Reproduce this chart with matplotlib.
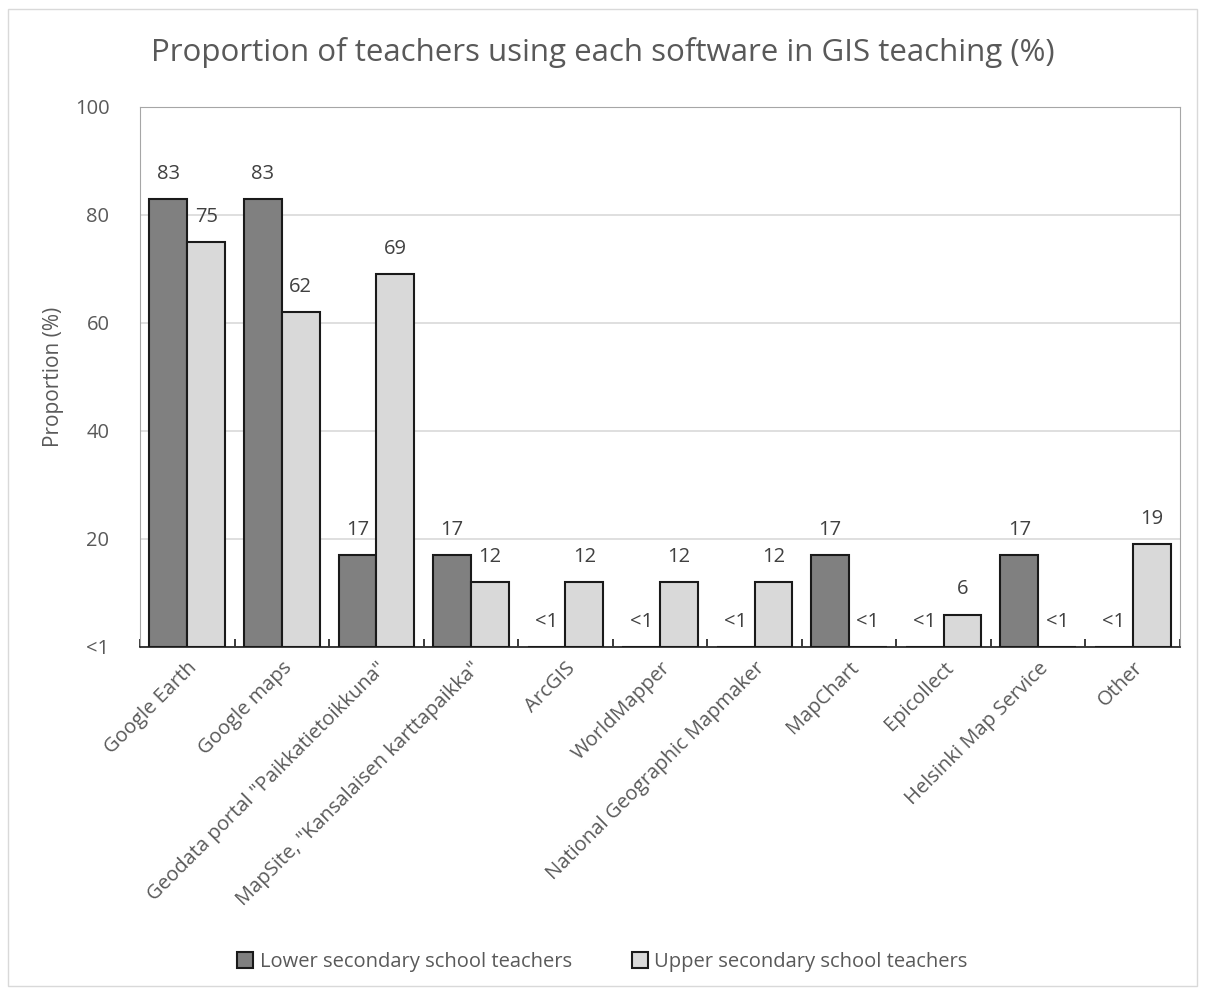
import numpy as np
import matplotlib.pyplot as plt
from matplotlib.patches import Rectangle

plt.rcParams['font.family'] = ['Open Sans', 'DejaVu Sans']

software = ['Google Earth', 'Google maps', 'Geodata portal "Paikkatietoikkuna"',
            'MapSite, "Kansalaisen karttapaikka"', 'ArcGIS', 'WorldMapper',
            'National Geographic Mapmaker', 'MapChart', 'Epicollect',
            'Helsinki Map Service', 'Other']
lower = [83, 83, 17, 17, 0, 0, 0, 17, 0, 17, 0]
upper = [75, 62, 69, 12, 12, 12, 12, 0, 6, 0, 19]
yticks = [0, 20, 40, 60, 80, 100]
ytick_labels = ['<1', '20', '40', '60', '80', '100']

txt = '#595959'
fig = plt.figure(figsize=(12.05, 9.93), dpi=100)
fig.patches.append(Rectangle((0.007, 0.007), 0.986, 0.984, transform=fig.transFigure,
                             fill=False, edgecolor='#d9d9d9', linewidth=1))
ax = fig.add_axes([140 / 1205, 1 - 647 / 993, 1040 / 1205, 540 / 993])

x = np.arange(len(software))
w = 0.4
b1 = ax.bar(x - w / 2, lower, width=w, color='#808080', edgecolor='#1a1a1a', linewidth=1.5,
            label='Lower secondary school teachers', zorder=3)
b2 = ax.bar(x + w / 2, upper, width=w, color='#d9d9d9', edgecolor='#1a1a1a', linewidth=1.5,
            label='Upper secondary school teachers', zorder=3)

for bars, vals in [(b1, lower), (b2, upper)]:
    for bar, v in zip(bars, vals):
        lab = '<1' if v == 0 else str(v)
        ax.annotate(lab, (bar.get_x() + bar.get_width() / 2, v), xytext=(0, 11),
                    textcoords='offset points', ha='center', va='bottom',
                    fontsize=14.5, color='#404040')

ax.set_xlim(-0.5, len(software) - 0.5)
ax.set_ylim(0, 100)
ax.set_yticks(yticks)
ax.set_yticklabels(ytick_labels, fontsize=14.5, color=txt)
ax.yaxis.grid(True, color='#d9d9d9', linewidth=1.2, zorder=0)
ax.tick_params(axis='y', length=0, pad=22)
ax.set_xticks(x)
ax.set_xticklabels(software, rotation=45, ha='right', rotation_mode='anchor',
                   fontsize=14.5, color=txt)
ax.tick_params(axis='x', length=0, pad=8)
ax.set_xticks(np.arange(len(software) + 1) - 0.5, minor=True)
ax.tick_params(axis='x', which='minor', direction='in', length=6, color='#1a1a1a', width=1.2)
for s in ['top', 'left', 'right']:
    ax.spines[s].set_color('#a6a6a6')
ax.spines['bottom'].set_color('#1a1a1a')
ax.spines['bottom'].set_linewidth(1.2)

ax.set_ylabel('Proportion (%)', fontsize=15, color=txt, labelpad=8)
fig.text(0.5, 1 - 52 / 993, 'Proportion of teachers using each software in GIS teaching (%)',
         ha='center', va='center', fontsize=22.5, color=txt)
fig.legend(handles=[b1, b2], loc='center', bbox_to_anchor=(0.5, 1 - 962 / 993), ncol=2,
           frameon=False, fontsize=14.5, labelcolor=txt, handlelength=0.8, handleheight=0.8,
           handletextpad=0.3, columnspacing=3.0)

fig.savefig('out.png', dpi=100)
